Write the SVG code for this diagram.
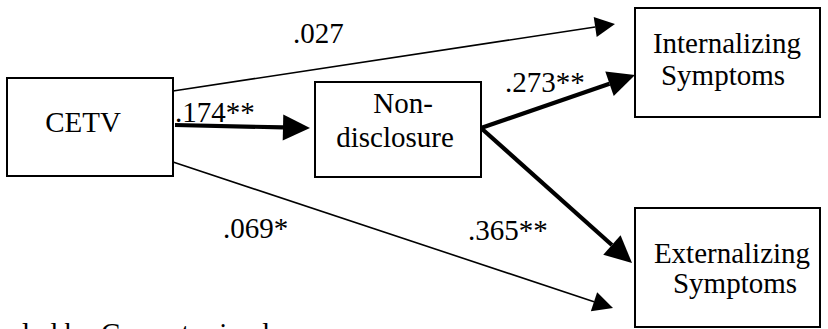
<svg xmlns="http://www.w3.org/2000/svg" width="828" height="329" viewBox="0 0 828 329">
  <style>
    .box { fill: #ffffff; stroke: #000000; stroke-width: 2; }
    .thin { stroke: #000000; stroke-width: 1.6; fill: none; }
    .thick { stroke: #000000; stroke-width: 4.2; fill: none; }
    text { font-family: "Liberation Serif", "Times New Roman", serif; font-size: 29px; fill: #000000; }
    .mid { text-anchor: middle; }
  </style>
  <defs>
    <marker id="headThin" markerUnits="userSpaceOnUse" orient="auto" refX="0" refY="0" markerWidth="30" markerHeight="30" overflow="visible">
      <path d="M0,-10 L20,0 L0,10 Z" fill="#000000"/>
    </marker>
    <marker id="headThick" markerUnits="userSpaceOnUse" orient="auto" refX="0" refY="0" markerWidth="40" markerHeight="40" overflow="visible">
      <path d="M0,-13 L27,0 L0,13 Z" fill="#000000"/>
    </marker>
  </defs>
  <rect width="828" height="329" fill="#ffffff"/>

  <g id="connectors">
    <path id="cetv-int" class="thin" d="M173,91 L595.2,27.0" marker-end="url(#headThin)"/>
    <path id="cetv-non" class="thick" d="M175,125 L283.0,127.4" marker-end="url(#headThick)"/>
    <path id="non-int" class="thick" d="M481,128 L609.5,83.8" marker-end="url(#headThick)"/>
    <path id="non-ext" class="thick" d="M481,128 L611.9,245.0" marker-end="url(#headThick)"/>
    <path id="cetv-ext" class="thin" d="M173,162 L594.0,301.7" marker-end="url(#headThin)"/>
    <text x="293" y="43">.027</text>
    <text x="175" y="122">.174**</text>
    <text x="505" y="92">.273**</text>
    <text x="468" y="240">.365**</text>
    <text x="223" y="238">.069*</text>
  </g>

  <g id="node-cetv">
    <rect class="box" x="7" y="78" width="166" height="98"/>
    <text class="mid" x="83" y="132">CETV</text>
  </g>

  <g id="node-nondisclosure">
    <rect class="box" x="315" y="82" width="166" height="95"/>
    <text class="mid" x="403" y="113">Non-</text>
    <text class="mid" x="395" y="147">disclosure</text>
  </g>

  <g id="node-internalizing">
    <rect class="box" x="635" y="8" width="185" height="109"/>
    <text class="mid" x="727" y="53">Internalizing</text>
    <text class="mid" x="723" y="85">Symptoms</text>
  </g>

  <g id="node-externalizing">
    <rect class="box" x="635" y="208" width="185" height="119"/>
    <text class="mid" x="732" y="263">Externalizing</text>
    <text class="mid" x="735" y="293">Symptoms</text>
  </g>

  <text x="-15" y="343">scaled by Current mixed</text>
</svg>
